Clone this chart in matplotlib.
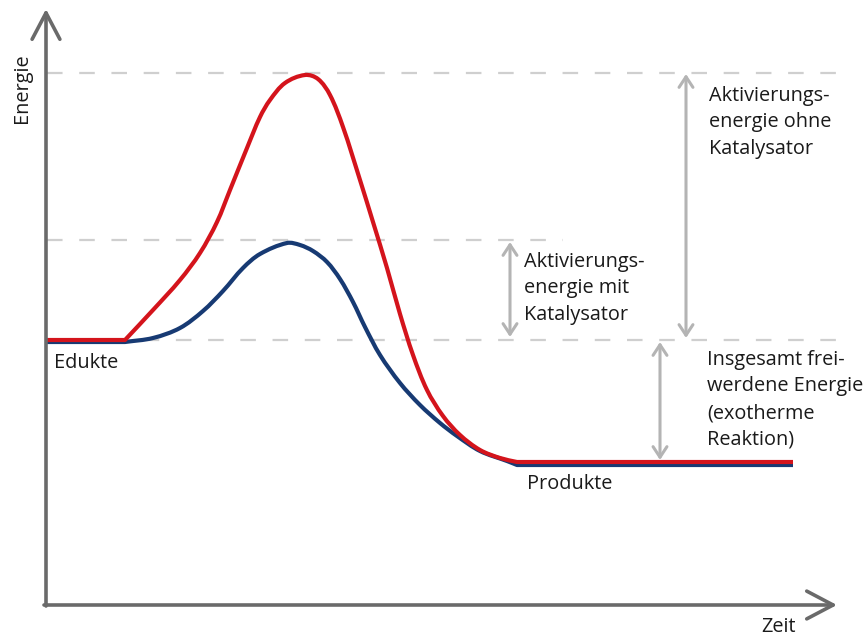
import matplotlib
matplotlib.use("Agg")
import matplotlib.pyplot as plt
import numpy as np
from matplotlib.path import Path
from matplotlib.patches import PathPatch

# ---- data (x = time position, y = energy position, image-style y axis pointing down) ----
red_x = [47, 125, 153, 180, 200, 217, 230, 247, 260, 270, 285, 305, 318, 330, 343, 360,
         373, 387, 400, 413, 427, 443, 460, 480, 500, 517, 793]
red_y = [340, 340, 310, 280, 253, 222, 190, 148, 117, 100, 83, 75, 79, 95, 127, 180,
         222, 268, 314, 355, 390, 416, 435, 450, 458, 462, 462]

blue_x = [47, 125, 153, 180, 203, 223, 243, 260, 287, 300, 313, 327, 340, 353, 365,
          380, 400, 420, 440, 457, 480, 507, 517, 793]
blue_y = [342, 342, 338, 328, 311, 291, 268, 254, 243, 245, 251, 262, 279, 302, 327,
          355, 383, 405, 423, 436, 451, 461, 465, 465]

levels_y = [73, 240, 340]          # high TS, low TS, Edukte level
levels_xend = [843, 563, 843]
levels_xstart = [47, 47, 47]

arrows = [  # (x, y_top, y_bottom)
    (686, 74, 338),
    (510, 242, 337),
    (660, 342, 460),
]

# (text, x, baseline of last line)
labels = [
    ("Aktivierungs-\nenergie ohne\nKatalysator", 709, 154),
    ("Aktivierungs-\nenergie mit\nKatalysator", 524, 320),
    ("Insgesamt frei-\nwerdene Energie\n(exotherme\nReaktion)", 707, 445),
    ("Edukte", 54, 368),
    ("Produkte", 527, 489),
    ("Zeit", 761, 632),
]

plt.rcParams['font.family'] = ['Open Sans', 'DejaVu Sans']


def smooth_path(xs, ys):
    """Bezier path through the given points; first and last segments straight."""
    P = np.column_stack([xs, ys]).astype(float)
    n = len(P)
    verts = [P[0], P[1]]
    codes = [Path.MOVETO, Path.LINETO]
    inner = P[1:n - 1]
    m = len(inner)
    tang = np.zeros_like(inner)
    for i in range(m):
        if i == 0:
            d = inner[1] - inner[0]
        elif i == m - 1:
            d = inner[-1] - inner[-2]
        else:
            d = inner[i + 1] - inner[i - 1]
        tang[i] = d / np.hypot(*d)
    for i in range(m - 1):
        a, b = inner[i], inner[i + 1]
        L = np.hypot(*(b - a)) / 3.0
        verts += [a + tang[i] * L, b - tang[i + 1] * L, b]
        codes += [Path.CURVE4] * 3
    verts.append(P[-1])
    codes.append(Path.LINETO)
    return Path(verts, codes)


fig = plt.figure(figsize=(8.68, 6.37), dpi=100)
ax = fig.add_axes([0, 0, 1, 1])
ax.set_xlim(0, 868)
ax.set_ylim(637, 0)
ax.axis('off')

# dashed reference levels
for y, x0, x1 in zip(levels_y, levels_xstart, levels_xend):
    ax.plot([x0, x1], [y, y], color='#cfcfcf', lw=1.6, dashes=(7, 7.5), zorder=1)

# curves
ax.add_patch(PathPatch(smooth_path(blue_x, blue_y), fill=False, edgecolor='#173a73',
                       lw=3.0, joinstyle='round', capstyle='butt', zorder=3))
ax.add_patch(PathPatch(smooth_path(red_x, red_y), fill=False, edgecolor='#d4141c',
                       lw=3.0, joinstyle='round', capstyle='butt', zorder=4))

# gray double arrows
for x, y0, y1 in arrows:
    ax.annotate('', xy=(x, y0), xytext=(x, y1),
                arrowprops=dict(arrowstyle='<->,head_length=0.38,head_width=0.25',
                                color='#b4b4b4', lw=2.2, mutation_scale=20,
                                shrinkA=0, shrinkB=0), zorder=2)

# axes arrows
axis_col = '#6a6a6a'
ax.annotate('', xy=(46, 9), xytext=(46, 606),
            arrowprops=dict(arrowstyle='->,head_length=0.95,head_width=0.5',
                            color=axis_col, lw=2.6, mutation_scale=20,
                            shrinkA=0, shrinkB=0), zorder=5)
ax.annotate('', xy=(837, 605), xytext=(44, 605),
            arrowprops=dict(arrowstyle='->,head_length=0.95,head_width=0.5',
                            color=axis_col, lw=2.6, mutation_scale=20,
                            shrinkA=0, shrinkB=0), zorder=5)

for txt, x, y in labels:
    ax.text(x, y, txt, fontsize=14.3, color='#1a1a1a', ha='left', va='baseline',
            linespacing=1.45, zorder=6)

ax.text(22, 88, "Energie", fontsize=14.3, color='#1a1a1a', rotation=90,
        ha='center', va='center', zorder=6)

fig.savefig('out.png', dpi=100)
